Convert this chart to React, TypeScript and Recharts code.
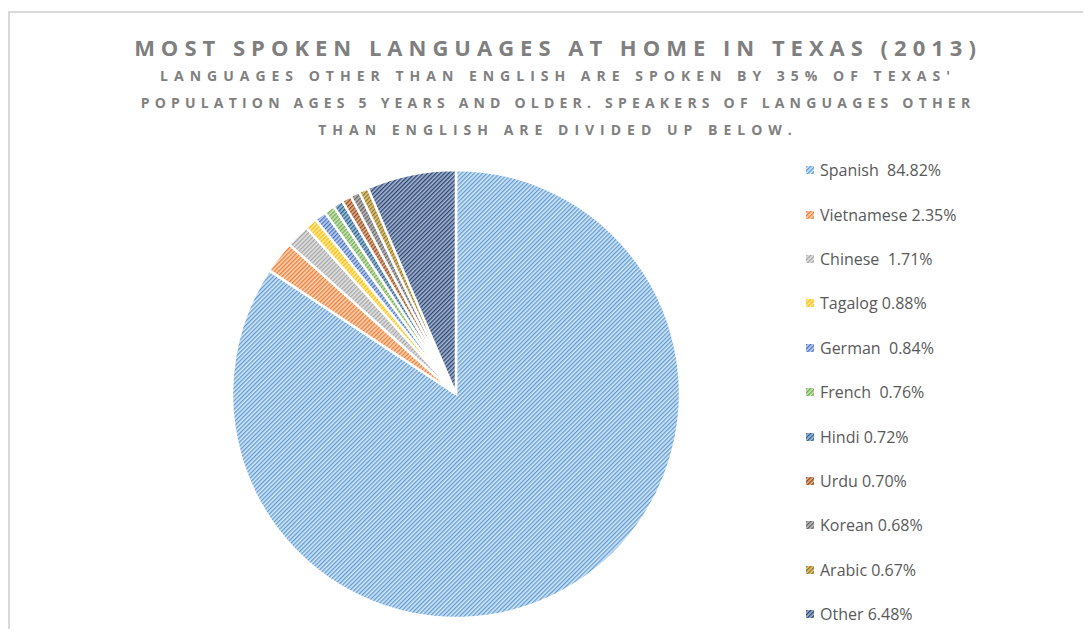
import React from 'react';
import { PieChart, Pie, Cell, Legend } from 'recharts';

const languages = ['Spanish', 'Vietnamese', 'Chinese', 'Tagalog', 'German', 'French', 'Hindi', 'Urdu', 'Korean', 'Arabic', 'Other'];
const shares = [84.82, 2.35, 1.71, 0.88, 0.84, 0.76, 0.72, 0.7, 0.68, 0.67, 6.48];
const legendLabels = [
  'Spanish  84.82%', 'Vietnamese 2.35%', 'Chinese  1.71%', 'Tagalog 0.88%', 'German  0.84%',
  'French  0.76%', 'Hindi 0.72%', 'Urdu 0.70%', 'Korean 0.68%', 'Arabic 0.67%', 'Other 6.48%',
];
const baseColors = ['#5B9BD5', '#ED7D31', '#A5A5A5', '#FFC000', '#4472C4', '#70AD47', '#255E91', '#9E480E', '#636363', '#997300', '#264478'];
const tintColors = ['#d6e6f5', '#f9d3b9', '#e2e2e2', '#ffe9a6', '#c3d1ec', '#cde3bf', '#a8c0d6', '#d9b49c', '#bdbdbd', '#d8c89a', '#a9b5ca'];

const title = 'MOST SPOKEN LANGUAGES AT HOME IN TEXAS (2013)';
const subtitleLines = [
  "LANGUAGES OTHER THAN ENGLISH ARE SPOKEN BY 35% OF TEXAS'",
  'POPULATION AGES 5 YEARS AND OLDER. SPEAKERS OF LANGUAGES OTHER',
  'THAN ENGLISH ARE DIVIDED UP BELOW.',
];
// per-line tracking so each line spans the same width as the original
const subtitleSpacing = [6.0, 5.2, 6.0];

const data = languages.map((name, i) => ({ name, value: shares[i], label: legendLabels[i] }));

const renderLegend = () => (
  <div>
    {data.map((d, i) => (
      <div key={d.name} style={{ display: 'flex', alignItems: 'center', height: 44.4 }}>
        <svg width={8} height={8} style={{ marginRight: 6 }}>
          <rect width={8} height={8} fill={`url(#pat-${i})`} />
        </svg>
        <span style={{ whiteSpace: 'pre', fontSize: 16, color: '#595959', fontFamily: '"Open Sans", sans-serif' }}>{d.label}</span>
      </div>
    ))}
  </div>
);

export default function App() {
  return (
    <div style={{ paddingTop: 3, height: 626, marginBottom: -8, overflow: 'hidden' }}>
      <div style={{ position: 'relative', width: 1081, height: 624, borderLeft: '2px solid #d9d9d9', borderTop: '2px solid #d9d9d9', overflow: 'hidden', background: '#fff' }}>
        <div style={{ position: 'absolute', left: 3, width: 1090, top: 20, textAlign: 'center', fontFamily: '"Open Sans", sans-serif', fontWeight: 700, fontSize: 22, letterSpacing: 6, color: '#7f7f7f', lineHeight: '28px' }}>
          {title}
        </div>
        {subtitleLines.map((line, i) => (
          <div key={i} style={{ position: 'absolute', left: 3, width: 1090, top: 53 + i * 27, textAlign: 'center', fontFamily: '"Open Sans", sans-serif', fontWeight: 700, fontSize: 14, letterSpacing: subtitleSpacing[i], color: '#808080', lineHeight: '20px' }}>
            {line}
          </div>
        ))}
        <div style={{ position: 'absolute', left: 0, top: 0 }}>
          <PieChart width={1081} height={624} margin={{ top: 0, right: 0, bottom: 0, left: 0 }}>
            <defs>
              {baseColors.map((c, i) => (
                <pattern key={i} id={`pat-${i}`} width={3} height={3} patternUnits="userSpaceOnUse" patternTransform="rotate(45)">
                  <rect width={3} height={3} fill={tintColors[i]} />
                  <rect width={1.3} height={3} fill={c} />
                </pattern>
              ))}
            </defs>
            <Pie
              data={data}
              dataKey="value"
              nameKey="name"
              cx={446}
              cy={381}
              outerRadius={224}
              startAngle={90}
              endAngle={-270}
              stroke="#ffffff"
              strokeWidth={2.5}
              isAnimationActive={false}
            >
              {data.map((d, i) => (
                <Cell key={d.name} fill={`url(#pat-${i})`} />
              ))}
            </Pie>
            <Legend
              layout="vertical"
              verticalAlign="top"
              align="right"
              content={renderLegend}
              wrapperStyle={{ position: 'absolute', left: 796, top: 135, width: 270 }}
            />
          </PieChart>
        </div>
      </div>
    </div>
  );
}
